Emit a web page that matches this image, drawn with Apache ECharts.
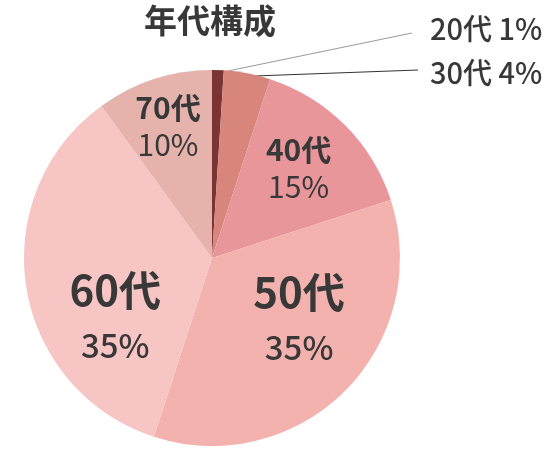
<!DOCTYPE html>
<html><head><meta charset="utf-8">
<script src="https://cdn.jsdelivr.net/npm/echarts@6/dist/echarts.min.js"></script>
<style>html,body{margin:0;padding:0;background:#fff}#c{width:546px;height:472px}</style>
</head><body><div id="c"></div>
<script>
const titleText = '年代構成';
const categories = ['20代', '30代', '40代', '50代', '60代', '70代'];
const percents = [1, 4, 15, 35, 35, 10];

// styling (not data)
const colors = ['#7a3434', '#d8857c', '#e9969b', '#f3b2ae', '#f6c5c4', '#e5b2ac'];
const labelKind = ['out', 'out', 'mid', 'big', 'big', 'mid'];
const lineColors = ['#9a9a9a', '#333333'];
const outPos = [[430, 29], [430, 73]];
const lineEnd = [[412, 33], [418, 70]];
const inOffset = {2: [18, -21.5], 3: [18.5, -7], 4: [-1, 44.5], 5: [-14, -40]};

const CX = 212, CY = 258, R = 188;
const FONT = '"Noto Sans CJK JP", "Noto Sans", sans-serif';
const TXT = '#383838';

const total = percents.reduce((a, b) => a + b, 0);
const midAngles = [];
{
  let acc = 0;
  percents.forEach(v => { midAngles.push((acc + v / 2) / total * Math.PI * 2); acc += v; });
}

const data = categories.map((c, i) => {
  const kind = labelKind[i];
  const item = { name: c, value: percents[i], itemStyle: { color: colors[i] } };
  if (kind === 'out') {
    item.label = {
      show: true, position: 'outside',
      formatter: '{o|{b} {c}%}'
    };
    item.labelLine = { show: true, length: 10, length2: 0, smooth: false,
      lineStyle: { color: lineColors[i], width: 1 } };
  } else {
    item.label = {
      show: true, position: 'inside',
      formatter: kind === 'big' ? '{bn|{b}}\n{bp|{c}%}' : '{mn|{b}}\n{mp|{c}%}'
    };
    item.labelLine = { show: false };
  }
  return item;
});

const chart = echarts.init(document.getElementById('c'));
chart.setOption({
  animation: false,
  backgroundColor: '#fff',
  title: {
    text: titleText, left: 139, top: -1,
    textStyle: { fontFamily: FONT, fontSize: 33, fontWeight: 'bold', color: TXT }
  },
  series: [{
    type: 'pie',
    center: [CX, CY],
    radius: R,
    startAngle: 90,
    clockwise: true,
    avoidLabelOverlap: false,
    data: data,
    label: {
      fontFamily: FONT, color: TXT,
      rich: {
        o: { fontFamily: FONT, fontSize: 29, fontWeight: 500, color: TXT, lineHeight: 32 },
        mn: { fontFamily: FONT, fontSize: 30, fontWeight: 'bold', color: TXT, lineHeight: 37, align: 'center' },
        mp: { fontFamily: FONT, fontSize: 30, fontWeight: 'normal', color: TXT, lineHeight: 37, align: 'center' },
        bn: { fontFamily: FONT, fontSize: 42, fontWeight: 'bold', color: TXT, lineHeight: 55, align: 'center' },
        bp: { fontFamily: FONT, fontSize: 33, fontWeight: 500, color: TXT, lineHeight: 55, align: 'center' }
      }
    },
    labelLayout: function (p) {
      const i = p.dataIndex;
      if (labelKind[i] === 'out') {
        const a = midAngles[i];
        const r0 = R - 3;
        const sx = CX + Math.sin(a) * r0, sy = CY - Math.cos(a) * r0;
        return {
          x: outPos[i][0], y: outPos[i][1], align: 'left', verticalAlign: 'middle',
          labelLinePoints: [[sx, sy], lineEnd[i], lineEnd[i]]
        };
      }
      const o = inOffset[i];
      return { dx: o[0], dy: o[1] };
    }
  }]
});
</script>
</body></html>
